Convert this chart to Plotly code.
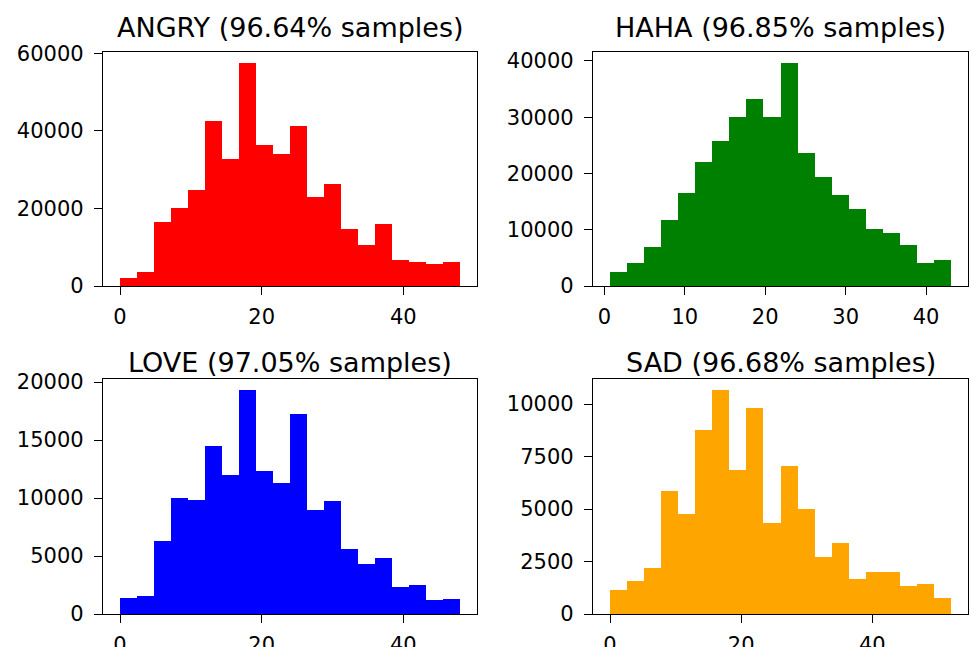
import plotly.graph_objects as go

W, H = 971, 647

titles = ["ANGRY (96.64% samples)", "HAHA (96.85% samples)",
          "LOVE (97.05% samples)", "SAD (96.68% samples)"]
colors = ["#ff0000", "#008000", "#0000ff", "#ffa500"]

angry_range = (0.0, 48.0)
angry_counts = [2000, 3700, 16500, 20000, 24700, 42700, 32800, 57500, 36300, 34000,
                41400, 23000, 26400, 14700, 10700, 16000, 6700, 6200, 5600, 6100]

haha_range = (0.7, 43.1)
haha_counts = [2500, 4100, 7000, 11700, 16600, 22100, 25800, 30100, 33300, 30100,
               39600, 23700, 19400, 16200, 13700, 10100, 9400, 7300, 4100, 4600]

love_range = (0.0, 48.0)
love_counts = [1350, 1530, 6260, 9990, 9810, 14460, 11950, 19300, 12320, 11340,
               17230, 9000, 9780, 5630, 4330, 4850, 2340, 2510, 1180, 1330]

sad_range = (0.0, 52.0)
sad_counts = [1130, 1560, 2190, 5840, 4780, 8760, 10660, 6840, 9820, 4350,
              7030, 4980, 2730, 3360, 1650, 1980, 1980, 1320, 1430, 780]

x_ticks = [[0, 20, 40], [0, 10, 20, 30, 40], [0, 20, 40], [0, 20, 40]]
y_ticks = [[0, 20000, 40000, 60000], [0, 10000, 20000, 30000, 40000],
           [0, 5000, 10000, 15000, 20000], [0, 2500, 5000, 7500, 10000]]

ranges = [angry_range, haha_range, love_range, sad_range]
counts = [angry_counts, haha_counts, love_counts, sad_counts]

# axes boxes in pixels (left, right, top, bottom)
boxes = [(103, 477, 52, 286), (593, 968, 52, 286),
         (103, 477, 379, 614), (593, 968, 379, 614)]
title_mid = [27, 27, 362, 362]

fig = go.Figure()
FONT = "DejaVu Sans"

for i in range(4):
    lo, hi = ranges[i]
    c = counts[i]
    n = len(c)
    w = (hi - lo) / n
    centers = [lo + (k + 0.5) * w for k in range(n)]
    ax = "" if i == 0 else str(i + 1)
    fig.add_trace(go.Bar(x=centers, y=c, width=w, marker=dict(color=colors[i], line=dict(width=0)),
                         xaxis="x" + ax, yaxis="y" + ax, showlegend=False))
    l, r, t, b = boxes[i]
    span = hi - lo
    xr = [lo - 0.05 * span, hi + 0.05 * span]
    yr = [0, max(c) * 1.05]
    common = dict(showline=True, linecolor="black", linewidth=1.3, mirror=True,
                  ticks="outside", ticklen=8, tickwidth=1.3, tickcolor="black",
                  showgrid=False, zeroline=False, automargin=False, tickformat="d",
                  tickfont=dict(family=FONT, size=21, color="black"))
    fig.layout["xaxis" + ax] = dict(domain=[l / W, r / W], range=xr, anchor="y" + ax,
                                    tickvals=x_ticks[i], ticklabelstandoff=4, **common)
    fig.layout["yaxis" + ax] = dict(domain=[(H - b) / H, (H - t) / H], range=yr, anchor="x" + ax,
                                    tickvals=y_ticks[i], ticklabelstandoff=6, **common)
    fig.add_annotation(text=titles[i], x=(l + r) / 2 / W, y=(H - title_mid[i]) / H,
                       xref="paper", yref="paper", xanchor="center", yanchor="middle",
                       showarrow=False, font=dict(family=FONT, size=27, color="black"))

fig.update_layout(width=W, height=H, margin=dict(l=0, r=0, t=0, b=0),
                  paper_bgcolor="white", plot_bgcolor="white", bargap=0)
fig.write_html("out.html", config={"displayModeBar": False},
               post_script="document.body.style.margin='0';")
